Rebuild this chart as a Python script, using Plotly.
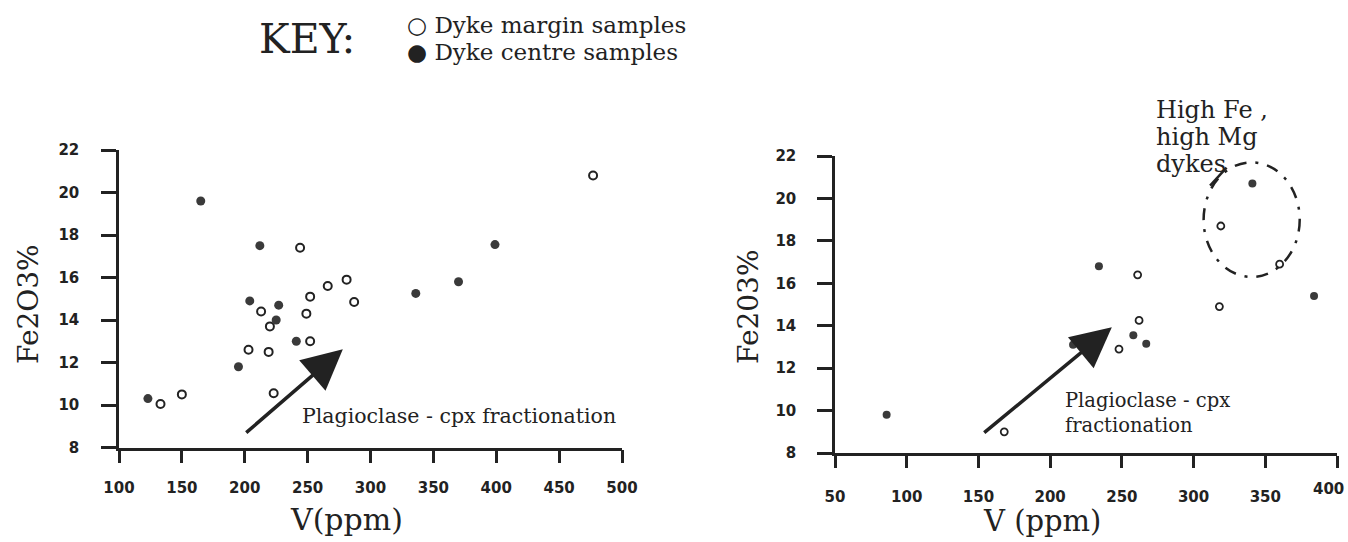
import plotly.graph_objects as go

W, H = 1348, 542

# ---------------- data ----------------
left_margin_v = [133, 150, 203, 213, 220, 219, 223, 244, 249, 252, 252, 266, 281, 287, 477]
left_margin_fe = [10.05, 10.5, 12.6, 14.4, 13.7, 12.5, 10.55, 17.4, 14.3, 15.1, 13.0, 15.6, 15.9, 14.85, 20.8]
left_centre_v = [123, 165, 195, 204, 212, 225, 227, 241, 336, 370, 399]
left_centre_fe = [10.3, 19.6, 11.8, 14.9, 17.5, 14.0, 14.7, 13.0, 15.25, 15.8, 17.55]

right_margin_v = [168, 248, 261, 262, 318, 319, 360]
right_margin_fe = [9.0, 12.9, 16.4, 14.25, 14.9, 18.7, 16.9]
right_centre_v = [86, 216, 234, 258, 267, 341, 384]
right_centre_fe = [9.8, 13.1, 16.8, 13.55, 13.15, 20.7, 15.4]

left_xticks = [100, 150, 200, 250, 300, 350, 400, 450, 500]
right_xticks = [50, 100, 150, 200, 250, 300, 350, 400]
yticks = [8, 10, 12, 14, 16, 18, 20, 22]

group_label_lines = ["High Fe ,", "high Mg", "dykes"]
key_lines = ["○ Dyke margin samples", "● Dyke centre samples"]

# trend arrows (tail -> head) in data units
left_arrow_tail = (200, 8.64)
left_arrow_head = (278, 12.62)
right_arrow_tail = (153, 8.9)
right_arrow_head = (243, 13.93)

# ---------------- styling ----------------
INK = "#222222"
DOT = "#3a3a3a"
SERIF = "DejaVu Serif"
SANS = "DejaVu Sans"


def px(x):
    return x / W


def py(y):
    return 1 - y / H


fig = go.Figure()

mk_open_l = dict(symbol="circle", size=8, color="white", line=dict(color=INK, width=2))
mk_fill_l = dict(symbol="circle", size=9, color=DOT, line=dict(color=DOT, width=0))
mk_open_r = dict(symbol="circle", size=7, color="white", line=dict(color=INK, width=1.8))
mk_fill_r = dict(symbol="circle", size=8, color=DOT, line=dict(color=DOT, width=0))

fig.add_trace(go.Scatter(x=left_margin_v, y=left_margin_fe, mode="markers", marker=mk_open_l,
                         name="Dyke margin samples", showlegend=False, xaxis="x", yaxis="y", cliponaxis=False))
fig.add_trace(go.Scatter(x=left_centre_v, y=left_centre_fe, mode="markers", marker=mk_fill_l,
                         name="Dyke centre samples", showlegend=False, xaxis="x", yaxis="y", cliponaxis=False))
fig.add_trace(go.Scatter(x=right_margin_v, y=right_margin_fe, mode="markers", marker=mk_open_r,
                         name="Dyke margin samples", showlegend=False, xaxis="x2", yaxis="y2", cliponaxis=False))
fig.add_trace(go.Scatter(x=right_centre_v, y=right_centre_fe, mode="markers", marker=mk_fill_r,
                         name="Dyke centre samples", showlegend=False, xaxis="x2", yaxis="y2", cliponaxis=False))

tickfont = dict(family=SANS, size=15, color=INK, weight="bold")
common_axis = dict(showline=True, linewidth=2.5, linecolor=INK, ticks="outside", tickwidth=2.5,
                   tickcolor=INK, showgrid=False, zeroline=False, tickfont=tickfont, fixedrange=True,
                   automargin=False, ticklabeloverflow="allow")

# the last right-hand tick label sits at the page edge; it is written separately, nudged inward
right_xtext = [str(v) for v in right_xticks[:-1]] + [""]

fig.update_layout(
    width=W, height=H, autosize=False,
    margin=dict(l=0, r=0, t=0, b=0, autoexpand=False),
    paper_bgcolor="white", plot_bgcolor="rgba(0,0,0,0)",
    showlegend=False,
    xaxis=dict(domain=[px(119), px(622)], range=[100, 500], tickvals=left_xticks, anchor="y",
               ticklen=13, ticklabelstandoff=12, **common_axis),
    yaxis=dict(domain=[py(447.5), py(150)], range=[8, 22], tickvals=yticks, anchor="x",
               ticklen=15, ticklabelstandoff=19, **common_axis),
    xaxis2=dict(domain=[px(835), px(1337)], range=[50, 400], tickvals=right_xticks, ticktext=right_xtext,
                anchor="y2", ticklen=12, ticklabelstandoff=16, **common_axis),
    yaxis2=dict(domain=[py(453), py(156)], range=[8, 22], tickvals=yticks, anchor="x2",
                ticklen=15, ticklabelstandoff=18, **common_axis),
)

ann = []
ann.append(dict(text=str(right_xticks[-1]), x=px(1346), y=py(489), xref="paper", yref="paper",
                showarrow=False, font=tickfont, xanchor="right", yanchor="middle"))

# axis titles
ann.append(dict(text="Fe2O3%", x=px(28), y=py(304), xref="paper", yref="paper", textangle=-90,
                showarrow=False, font=dict(family=SERIF, size=28, color=INK), xanchor="center", yanchor="middle"))
ann.append(dict(text="V(ppm)", x=px(346), y=py(519), xref="paper", yref="paper",
                showarrow=False, font=dict(family=SERIF, size=30, color=INK), xanchor="center", yanchor="middle"))
ann.append(dict(text="Fe203%", x=px(748), y=py(306), xref="paper", yref="paper", textangle=-90,
                showarrow=False, font=dict(family=SERIF, size=28, color=INK), xanchor="center", yanchor="middle"))
ann.append(dict(text="V (ppm)", x=px(1042), y=py(521), xref="paper", yref="paper",
                showarrow=False, font=dict(family=SERIF, size=29, color=INK), xanchor="center", yanchor="middle"))

# key
ann.append(dict(text="KEY:", x=px(307), y=py(39), xref="paper", yref="paper", showarrow=False,
                font=dict(family=SERIF, size=41, color=INK), xanchor="center", yanchor="middle"))
for i, line in enumerate(key_lines):
    ann.append(dict(text=line, x=px(405), y=py(25 + 27 * i), xref="paper", yref="paper", showarrow=False,
                    font=dict(family=SERIF, size=23, color=INK), xanchor="left", yanchor="middle"))

# arrows
ann.append(dict(x=left_arrow_head[0], y=left_arrow_head[1], ax=left_arrow_tail[0], ay=left_arrow_tail[1],
                xref="x", yref="y", axref="x", ayref="y", text="", showarrow=True,
                arrowhead=2, arrowsize=2.3, arrowwidth=3.5, arrowcolor=INK))
ann.append(dict(x=right_arrow_head[0], y=right_arrow_head[1], ax=right_arrow_tail[0], ay=right_arrow_tail[1],
                xref="x2", yref="y2", axref="x2", ayref="y2", text="", showarrow=True,
                arrowhead=2, arrowsize=2.3, arrowwidth=3.5, arrowcolor=INK))

# arrow labels
ann.append(dict(text="Plagioclase - cpx fractionation", x=244, y=9.48, xref="x", yref="y", showarrow=False,
                font=dict(family=SERIF, size=20.5, color=INK), xanchor="left", yanchor="middle"))
ann.append(dict(text="Plagioclase - cpx<br>fractionation", x=209, y=9.9, xref="x2", yref="y2", showarrow=False,
                align="left", font=dict(family=SERIF, size=19.5, color=INK), xanchor="left", yanchor="middle"))
# group label sits above the plotting area, so it is placed in page units (one line each for tight leading)
for i, line in enumerate(group_label_lines):
    ann.append(dict(text=line, x=px(1154), y=py(110 + 27 * i), xref="paper", yref="paper",
                    showarrow=False, align="left", font=dict(family=SERIF, size=24, color=INK),
                    xanchor="left", yanchor="middle"))

fig.update_layout(annotations=ann)

# dashed envelope around the high Fe / high Mg group
fig.add_shape(type="circle", xref="x2", yref="y2", x0=307, x1=374, y0=16.3, y1=21.7,
              line=dict(color=INK, width=2.5, dash="12px,9px,3px,9px"))
fig.add_shape(type="line", xref="x2", yref="y2", x0=311.5, y0=20.6, x1=323, y1=21.45,
              line=dict(color=INK, width=2.5))

fig.write_html("out.html")
